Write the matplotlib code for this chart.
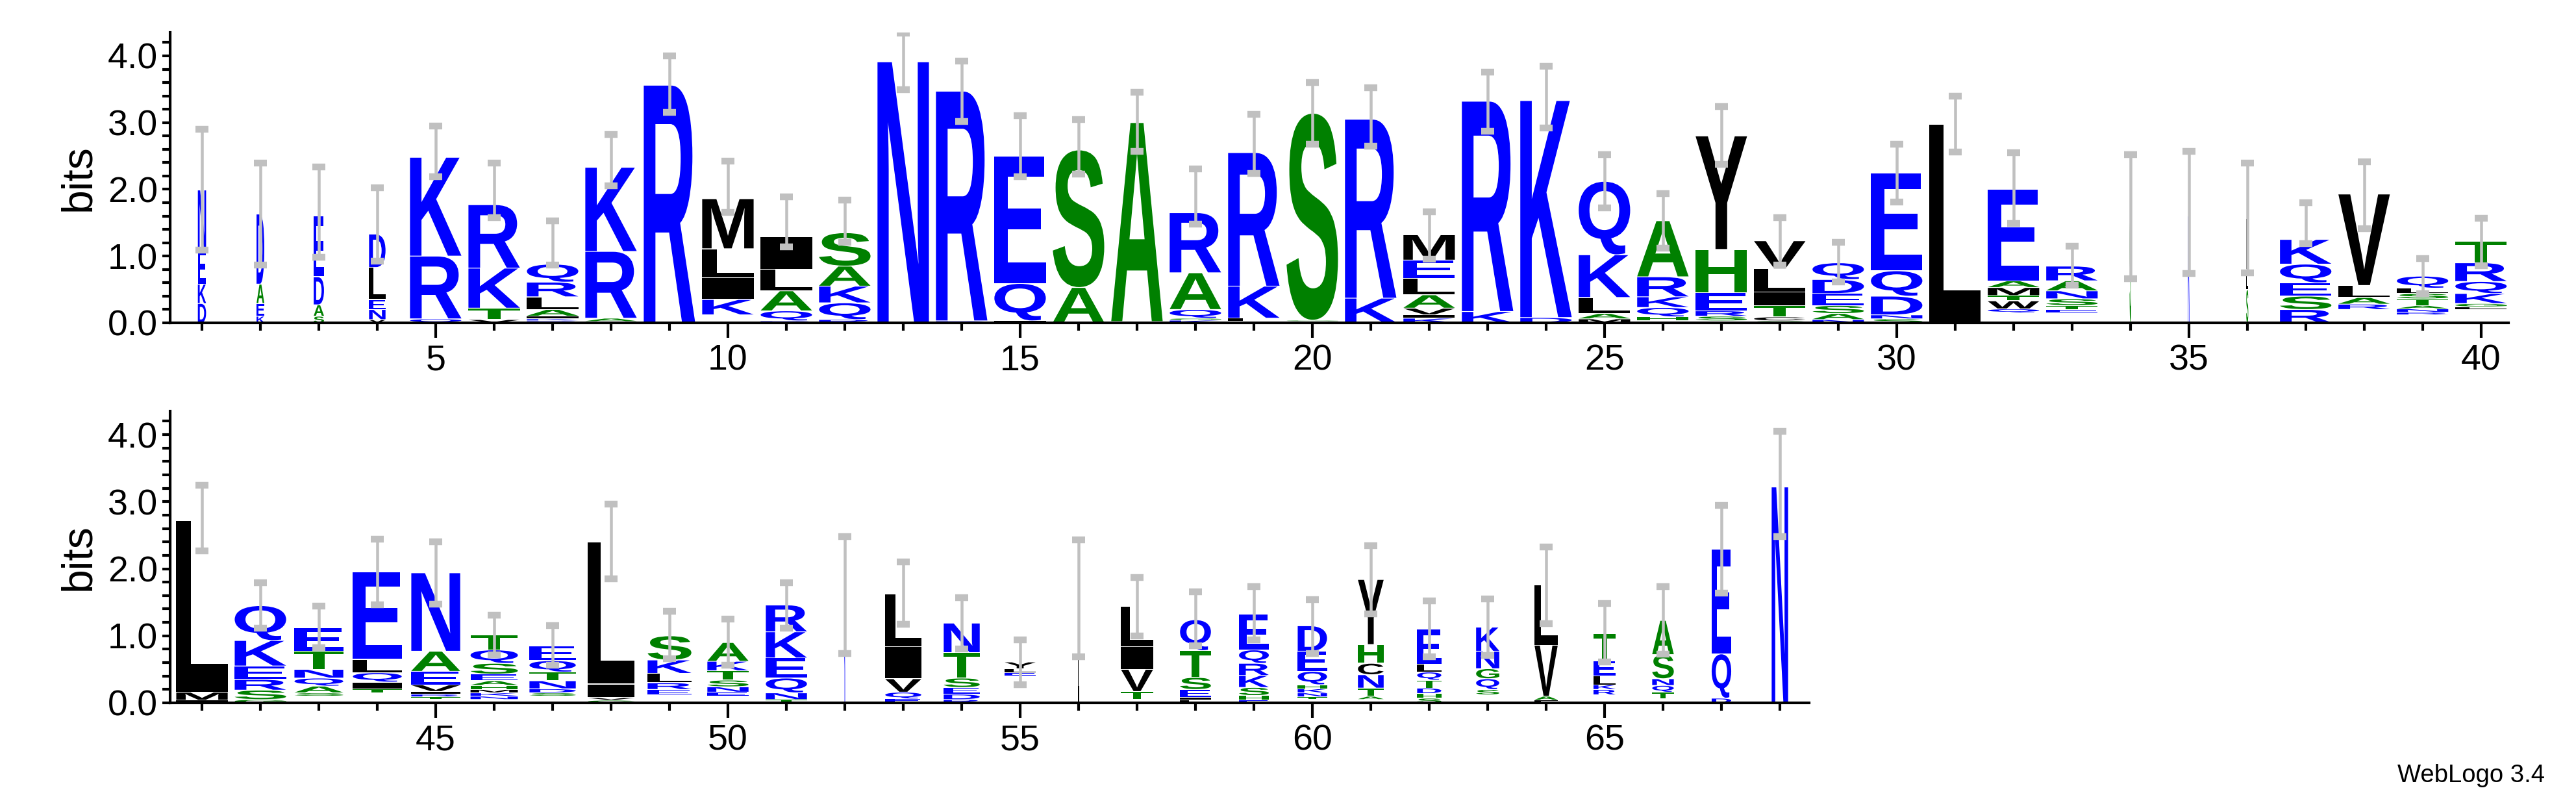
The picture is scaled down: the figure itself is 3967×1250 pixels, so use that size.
import matplotlib
matplotlib.use("Agg")
import matplotlib.pyplot as plt
from matplotlib.textpath import TextPath
from matplotlib.font_manager import FontProperties
from matplotlib.patches import PathPatch
from matplotlib.path import Path
from matplotlib.ticker import MultipleLocator, FixedLocator
import numpy as np

plt.rcParams['font.family'] = ['Liberation Sans', 'DejaVu Sans']

positions = list(range(1, 69))
# letters listed bottom -> top, ' ' = empty space
stack_letters = [
    "DKEN", "KEAD", "SADE", "VNELD", "QRK", "VTKR", "RKIALRQ", "EARK", "R", " KILM",
    "RQALI", "RQKAS", "N", "DR", "LIQE", "AS", "LA", "KGQAR", "ELKR", "LGS",
    "KR", "KIVALEM", "KR", "DK", "MALKQ", "EHQKRA", "LSREHY", "SCTILV", "NASEDQ", "SNDQE",
    "L", " QWTMAE", " ETSNAR", "S", "K", "SLI", "RSEQK", " RALV", " RNATSLQ", " LGKQRT",
    "IML", "GSREKQ", " SAQNTE", " TIQLE", " TRIVEAN", " NKMHAESQT", " SDNTQE", "GVIL", " ERLKS", " ENSTKA",
    "TNQEKR", "K", "EQVIL", "RDESTN", " ELY", "L", " TVIL", "LIESTQ", "EHSKRQE", " TNKHQED",
    " ATNCHY", "SHDTQLE", " SQGNK", "FAVL", " RKLET", " TQNSA", "DQE", "N",
]
stack_heights = [
    [.29, .29, .52, .89], [.1, .19, .29, 1.05], [.1, .17, .42, .91], [.05, .15, .15, .48, .5],
    [.06, .94, 1.48], [.05, .17, .6, .95], [.03, .03, .04, .1, .19, .22, .27], [.02, .05, 1.0, 1.26],
    [3.56], [.12, .23, .33, .43, .75],
    [.03, .15, .3, .32, .49], [.05, .25, .25, .3, .5], [3.91], [.03, 3.44], [.015, .015, .56, 1.91],
    [.53, 2.06], [.02, 2.98], [.04, .03, .13, .55, .9], [.02, .05, .48, 2.0], [.02, .02, 3.1],
    [.37, 2.68], [.07, .05, .1, .2, .25, .27, .38], [.17, 3.15], [.08, 3.25], [.06, .08, .24, .64, 1.1],
    [.03, .06, .14, .16, .3, .84], [.03, .07, .08, .27, .65, 1.7], [.03, .06, .17, .2, .35, .42],
    [.05, .09, .12, .18, .21, .25], [.06, .06, .28, .38, 1.46],
    [2.97], [.15, .06, .12, .08, .12, .1, 1.37], [.15, .05, .06, .1, .12, .15, .22], [1.6], [1.6],
    [.5, .3, .76], [.2, .2, .2, .28, .37], [.2, .08, .1, .18, 1.37], [.12, .04, .05, .05, .1, .08, .08, .18],
    [.2, .04, .05, .15, .18, .28, .32],
    [.04, .12, 2.56], [.05, .14, .16, .2, .38, .52], [.1, .05, .1, .12, .13, .27, .35],
    [.15, .06, .1, .14, .2, 1.3], [.05, .04, .04, .04, .1, .2, .3, 1.17],
    [.05, .05, .05, .05, .06, .07, .1, .16, .2, .22], [.1, .05, .06, .12, .13, .17, .22],
    [.04, .04, .2, 2.12], [.12, .08, .1, .14, .2, .36], [.1, .06, .08, .1, .14, .14, .28],
    [.05, .1, .22, .3, .39, .4], [1.53], [.06, .1, .2, .48, .78], [.05, .08, .1, .14, .38, .44],
    [.4, .05, .06, .1], [1.56], [.05, .12, .33, .34, .6], [.04, .04, .12, .18, .4, .46],
    [.04, .07, .12, .18, .18, .2, .53], [.05, .04, .06, .06, .06, .2, .3, .38],
    [.05, .05, .12, .2, .17, .28, .97], [.07, .07, .08, .12, .12, .12, .52], [.12, .08, .16, .15, .26, .36],
    [.04, .06, .76, .9], [.12, .08, .07, .13, .23, .4], [.06, .1, .1, .1, .36, .51], [.07, .66, 1.56], [3.22],
]
# relative column widths (fraction of full width)
col_width = [
    .16, .15, .2, .32] + [1.0] * 29 + [.03, .03, .04, 1, 1, 1, 1] + [
    1, 1, .95, .95, .95, .92, .9, .9, .85, .8, .8, .02, .7, .7, .6, .02, .62, .6, .58, .57,
    .5, .47, .45, .45, .43, .42, .38, .32]
err_lo = [1.09, .87, .98, .92, 2.19, 1.58, .87, 2.05, 3.15, 1.65, 1.14, 1.21, 3.49, 3.02, 2.19, 2.23, 2.57,
          1.48, 2.24, 2.68, 2.65, .95, 2.87, 2.92, 1.72, 1.12, 2.37, .87, .61, 1.81, 2.56, 1.49, .56, .66,
          .74, .75, 1.19, 1.41, .44, .86,
          2.27, 1.11, .82, 1.46, 1.47, .72, .56, 1.85, .66, .56, 1.11, .74, 1.17, .8, .27, .69, 1.0, .85,
          .94, .74, 1.33, .69, .71, 1.18, .61, .73, 1.64, 2.48]
err_hi = [2.9, 2.39, 2.34, 2.02, 2.95, 2.39, 1.53, 2.82, 4.0, 2.42, 1.89, 1.84, 4.34, 3.92, 3.1, 3.05, 3.45,
          2.31, 3.12, 3.6, 3.52, 1.66, 3.76, 3.84, 2.52, 1.94, 3.24, 1.58, 1.21, 2.68, 3.4, 2.55, 1.15, 2.52,
          2.57, 2.39, 1.8, 2.41, .96, 1.57,
          3.25, 1.79, 1.44, 2.44, 2.4, 1.31, 1.15, 2.96, 1.37, 1.25, 1.79, 2.48, 2.1, 1.57, .94, 2.43, 1.87,
          1.66, 1.73, 1.54, 2.34, 1.52, 1.55, 2.33, 1.48, 1.73, 2.95, 4.05]

BLUE, GREEN, BLACK = "#0000ff", "#008000", "#000000"
color_of = {c: BLUE for c in "KRDENQ"}
color_of.update({c: GREEN for c in "ASTGH"})
color_of.update({c: BLACK for c in "LIVMYFWCP"})

fp = FontProperties(family="Liberation Sans", weight="bold")
glyph_cache = {}


def glyph(ch):
    if ch not in glyph_cache:
        tp = TextPath((0, 0), ch, size=100, prop=fp)
        ext = tp.get_extents()
        v = tp.vertices.copy()
        v[:, 0] = (v[:, 0] - ext.x0) / ext.width
        v[:, 1] = (v[:, 1] - ext.y0) / ext.height
        glyph_cache[ch] = Path(v, tp.codes)
    return glyph_cache[ch]


def draw_letter(ax, ch, xc, y0, w, h):
    g = glyph(ch)
    v = g.vertices.copy()
    v[:, 0] = xc - w / 2 + v[:, 0] * w
    v[:, 1] = y0 + v[:, 1] * h
    ax.add_patch(PathPatch(Path(v, g.codes), facecolor=color_of.get(ch, BLACK), edgecolor="none", lw=0))


fig = plt.figure(figsize=(3967 / 250, 1250 / 250), dpi=250)
ax_top = fig.add_axes([262 / 3967, 0.6024, (3863 - 262) / 3967, 0.3576])
ax_bot = fig.add_axes([262 / 3967, 0.1344, (2786 - 262) / 3967, 0.3592])

FULL = 0.88
for i, pos in enumerate(positions):
    ax = ax_top if pos <= 40 else ax_bot
    y = 0.0
    w = FULL * col_width[i]
    for ch, h in zip(stack_letters[i], stack_heights[i]):
        if ch != " ":
            draw_letter(ax, ch, pos, y + 0.006, w, max(h - 0.012, 0.005))
        y += h
    ax.plot([pos, pos], [err_lo[i], err_hi[i]], color="#c0c0c0", lw=1.3, solid_capstyle="butt", zorder=5)
    for yy in (err_lo[i], err_hi[i]):
        ax.plot([pos - 0.11, pos + 0.11], [yy, yy], color="#c0c0c0", lw=3.0, solid_capstyle="butt", zorder=5)

for ax, lo, hi, majors in ((ax_top, 0.455, 40.47, [5, 10, 15, 20, 25, 30, 35, 40]),
                           (ax_bot, 40.455, 68.5, [45, 50, 55, 60, 65])):
    ax.set_xlim(lo, hi)
    ax.set_ylim(0, 4.35)
    for s in ("top", "right"):
        ax.spines[s].set_visible(False)
    for s in ("left", "bottom"):
        ax.spines[s].set_linewidth(1.2)
    ax.xaxis.set_major_locator(FixedLocator(majors))
    ax.xaxis.set_minor_locator(FixedLocator([p for p in range(int(lo) + 1, int(hi) + 1) if p not in majors]))
    ax.yaxis.set_minor_locator(MultipleLocator(0.2))
    ax.set_yticks([0, 1, 2, 3, 4])
    ax.set_yticklabels(["0.0", "1.0", "2.0", "3.0", "4.0"])
    ax.tick_params(axis="x", which="major", length=6.5, width=1.2, labelsize=16, pad=3)
    ax.tick_params(axis="x", which="minor", length=3.5, width=1.2)
    ax.tick_params(axis="y", which="both", length=3.5, width=1.2, labelsize=16, pad=2)
    ax.set_ylabel("bits", fontsize=19, labelpad=4)

fig.text(0.988, 0.03, "WebLogo 3.4", ha="right", va="bottom", fontsize=11)
fig.savefig("out.png", dpi=250)
